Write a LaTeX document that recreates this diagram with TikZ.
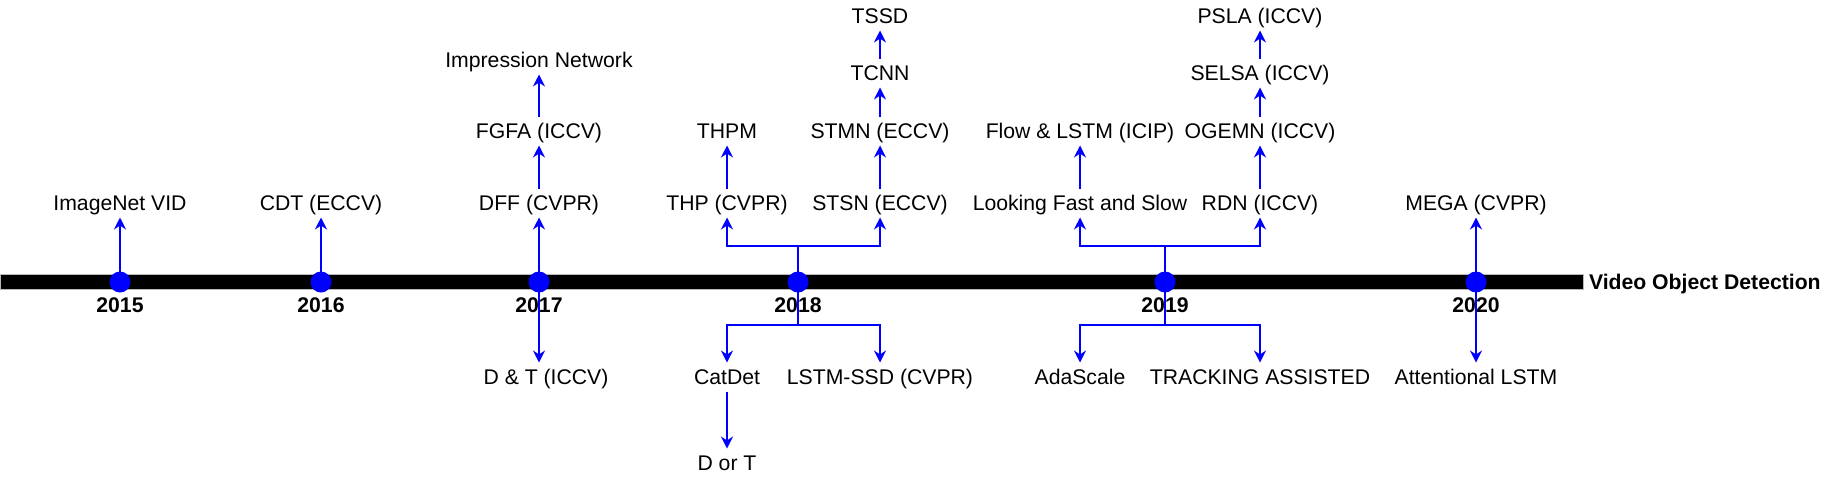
\documentclass[tikz,border=0pt]{standalone}
\usepackage{fontspec}
\setmainfont{Liberation Sans}
\usetikzlibrary{arrows.meta, positioning}

\begin{document}
\begin{tikzpicture}[
  x=1pt, y=1pt,
  node distance=14.5pt,
  every node/.style={font=\fontsize{10.6}{12}\selectfont},
  lbl/.style={inner sep=2pt, outer sep=0pt, text height=9pt, text depth=1.5pt},
  year/.style={lbl, font=\fontsize{10.6}{12}\selectfont\bfseries},
  axis/.style={rectangle, fill=black, draw=gray!55, line width=0.5pt,
               minimum height=7.5pt, inner sep=0pt, outer sep=0pt},
  dot/.style={circle, fill=blue, minimum size=10.5pt, inner sep=0pt},
  link/.style={-{Stealth[length=6pt, width=6pt, inset=2pt]}, blue, line width=0.7pt},
]
\useasboundingbox (0,-101) rectangle (916,141);

% timeline
\node[axis, anchor=west, minimum width=791.5pt] (axis) at (0,0) {};
\node[year, right=1pt of axis] (title) {Video Object Detection};

\coordinate (t15) at (60,0);
\coordinate (t16) at (160.5,0);
\coordinate (t17) at (269.5,0);
\coordinate (t18) at (399,0);
\coordinate (t19) at (582.5,0);
\coordinate (t20) at (738,0);

\node[year, below=4.25pt of t15] (l15) {2015};
\node[year, below=4.25pt of t16] (l16) {2016};
\node[year, below=4.25pt of t17] (l17) {2017};
\node[year, below=4.25pt of t18] (l18) {2018};
\node[year, below=4.25pt of t19] (l19) {2019};
\node[year, below=4.25pt of t20] (l20) {2020};

% methods above the line
\node[lbl, above=32.25pt of t15] (imnet) {ImageNet VID};
\node[lbl, above=32.25pt of t16] (cdt) {CDT (ECCV)};
\node[lbl, above=32.25pt of t17] (dff) {DFF (CVPR)};
\node[lbl, above=32.25pt of t18, xshift=-35.5pt] (thp) {THP (CVPR)};
\node[lbl, above=32.25pt of t18, xshift=41pt] (stsn) {STSN (ECCV)};
\node[lbl, above=32.25pt of t19, xshift=-42.5pt] (lfs) {Looking Fast and Slow};
\node[lbl, above=32.25pt of t19, xshift=47.5pt] (rdn) {RDN (ICCV)};
\node[lbl, above=32.25pt of t20] (mega) {MEGA (CVPR)};

\node[lbl, above=21.5pt of dff] (fgfa) {FGFA (ICCV)};
\node[lbl, above=21.5pt of thp] (thpm) {THPM};
\node[lbl, above=21.5pt of stsn] (stmn) {STMN (ECCV)};
\node[lbl, above=21.5pt of lfs] (flow) {Flow \& LSTM (ICIP)};
\node[lbl, above=21.5pt of rdn] (ogemn) {OGEMN (ICCV)};

\node[lbl, above=21pt of fgfa] (impr) {Impression Network};
\node[lbl, above=of stmn] (tcnn) {TCNN};
\node[lbl, above=of ogemn] (selsa) {SELSA (ICCV)};
\node[lbl, above=14pt of tcnn] (tssd) {TSSD};
\node[lbl, above=14pt of selsa] (psla) {PSLA (ICCV)};

% methods below the line
\node[lbl, below=40.25pt of t17, xshift=3.5pt] (dt) {D \& T (ICCV)};
\node[lbl, below=40.25pt of t18, xshift=-35.5pt] (catdet) {CatDet};
\node[lbl, below=40.25pt of t18, xshift=41pt] (lstmssd) {LSTM-SSD (CVPR)};
\node[lbl, below=40.25pt of t19, xshift=-42.5pt] (ada) {AdaScale};
\node[lbl, below=40.25pt of t19, xshift=47.5pt] (track) {TRACKING ASSISTED};
\node[lbl, below=40.25pt of t20] (attn) {Attentional LSTM};
\node[lbl, below=28.5pt of catdet] (dort) {D or T};

% connectors
\draw[link] (t15) -- (imnet);
\draw[link] (t16) -- (cdt);
\draw[link] (t17) -- (dff);
\draw[link] (dff) -- (fgfa);
\draw[link] (fgfa) -- (impr);
\draw[link] (t17) -- (t17 |- dt.north);

\draw[link] (t18) -- ++(0,18) coordinate (j18u) -| (thp.south);
\draw[link] (j18u) -| (stsn.south);
\draw[link] (thp) -- (thpm);
\draw[link] (stsn) -- (stmn);
\draw[link] (stmn) -- (tcnn);
\draw[link] (tcnn) -- (tssd);
\draw[link] (t18) -- ++(0,-21.5) coordinate (j18d) -| (catdet.north);
\draw[link] (j18d) -| (lstmssd.north);
\draw[link] (catdet) -- (dort);

\draw[link] (t19) -- ++(0,18) coordinate (j19u) -| (lfs.south);
\draw[link] (j19u) -| (rdn.south);
\draw[link] (lfs) -- (flow);
\draw[link] (rdn) -- (ogemn);
\draw[link] (ogemn) -- (selsa);
\draw[link] (selsa) -- (psla);
\draw[link] (t19) -- ++(0,-21.5) coordinate (j19d) -| (ada.north);
\draw[link] (j19d) -| (track.north);

\draw[link] (t20) -- (mega);
\draw[link] (t20) -- (attn);

% year dots
\node[dot] (d15) at (t15) {};
\node[dot] (d16) at (t16) {};
\node[dot] (d17) at (t17) {};
\node[dot] (d18) at (t18) {};
\node[dot] (d19) at (t19) {};
\node[dot] (d20) at (t20) {};
\end{tikzpicture}
\end{document}
